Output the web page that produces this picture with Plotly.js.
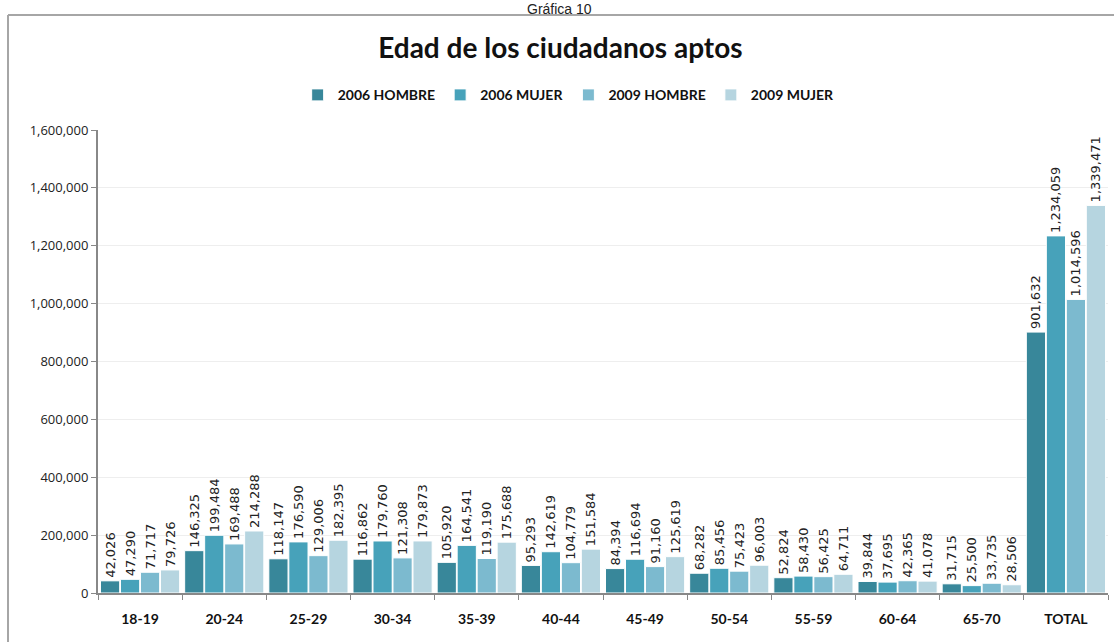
<!DOCTYPE html>
<html>
<head>
<meta charset="utf-8">
<script src="https://cdn.plot.ly/plotly-3.0.1.min.js"></script>
<style>
  html, body { margin: 0; padding: 0; background: #fff; }
  #chart { width: 1114px; height: 642px; }
</style>
</head>
<body>
<div id="chart"></div>
<script>
const ageGroups = ["18-19", "20-24", "25-29", "30-34", "35-39", "40-44", "45-49", "50-54", "55-59", "60-64", "65-70", "TOTAL"];

const hombre2006 = [42026, 146325, 118147, 116862, 105920, 95293, 84394, 68282, 52824, 39844, 31715, 901632];
const mujer2006 = [47290, 199484, 176590, 179760, 164541, 142619, 116694, 85456, 58430, 37695, 25500, 1234059];
const hombre2009 = [71717, 169488, 129006, 121308, 119190, 104779, 91160, 75423, 56425, 42365, 33735, 1014596];
const mujer2009 = [79726, 214288, 182395, 179873, 175688, 151584, 125619, 96003, 64711, 41078, 28506, 1339471];

const seriesNames = ["2006 HOMBRE", "2006 MUJER", "2009 HOMBRE", "2009 MUJER"];
const seriesColors = ["#38879a", "#47a2ba", "#7cbacf", "#b6d5e0"];
const seriesValues = [hombre2006, mujer2006, hombre2009, mujer2009];

const yTicks = [0, 200000, 400000, 600000, 800000, 1000000, 1200000, 1400000, 1600000];

const fmt = (v) => v.toLocaleString("en-US");

const data = seriesValues.map((vals, i) => ({
  type: "bar",
  name: "<b>" + seriesNames[i] + "</b>",
  x: ageGroups,
  y: vals,
  text: vals.map(fmt),
  textposition: "outside",
  textangle: -90,
  constraintext: "none",
  cliponaxis: false,
  textfont: { family: "DejaVu Sans", size: 13, color: "#222" },
  marker: { color: seriesColors[i], line: { color: "#ffffff", width: 1 } },
  hoverinfo: "skip",
}));

// plot area spans px 98..1108 horizontally, 130..593 vertically
const layout = {
  width: 1114,
  height: 642,
  margin: { l: 98, r: 6, t: 130, b: 49 },
  paper_bgcolor: "#ffffff",
  plot_bgcolor: "#ffffff",
  barmode: "group",
  bargap: 0.05,
  bargroupgap: 0.04,
  showlegend: true,
  title: {
    text: "<b>Edad de los ciudadanos aptos</b>",
    font: { family: "Lato", size: 28, color: "#111" },
    x: 0.503,
    xanchor: "center",
    y: 0.925,
    yanchor: "middle",
  },
  legend: {
    orientation: "h",
    x: 0.466,
    xanchor: "center",
    y: 1.075,
    yanchor: "middle",
    font: { family: "Lato", size: 14, color: "#111" },
    itemwidth: 30,
    traceorder: "normal",
  },
  xaxis: {
    type: "category",
    tickvals: ageGroups,
    ticktext: ageGroups.map((g) => "<b>" + g + "</b>"),
    tickfont: { family: "Lato", size: 14, color: "#111" },
    ticks: "outside",
    tickson: "boundaries",
    ticklen: 5,
    tickcolor: "#888",
    tickwidth: 1,
    showline: true,
    linecolor: "#888",
    linewidth: 2,
    showgrid: false,
    ticklabelstandoff: 12,
  },
  yaxis: {
    range: [0, 1600000],
    tickvals: yTicks,
    ticktext: yTicks.map(fmt),
    tickfont: { family: "Open Sans", size: 13, color: "#222" },
    ticks: "outside",
    ticklen: 5,
    tickcolor: "#888",
    showline: true,
    linecolor: "#888",
    linewidth: 2,
    showgrid: true,
    gridcolor: "#eeeeee",
    gridwidth: 1,
    zeroline: false,
    automargin: false,
  },
  shapes: [
    // outer chart border (only top and left visible)
    { type: "line", xref: "paper", yref: "paper", x0: -0.0891, x1: 1.01, y0: 1.2484, y1: 1.2484, line: { color: "#a6a6a6", width: 2 } },
    { type: "line", xref: "paper", yref: "paper", x0: -0.0891, x1: -0.0891, y0: 1.2484, y1: -0.11, line: { color: "#a6a6a6", width: 2 } },
  ],
  annotations: [
    {
      text: "Gráfica 10",
      xref: "paper", yref: "paper",
      x: 0.457, y: 1.2805,
      xanchor: "center", yanchor: "top",
      borderpad: 0,
      showarrow: false,
      font: { family: "Liberation Sans", size: 14, color: "#222" },
    },
  ],
};

Plotly.newPlot("chart", data, layout, { displayModeBar: false, staticPlot: true });
</script>
</body>
</html>
